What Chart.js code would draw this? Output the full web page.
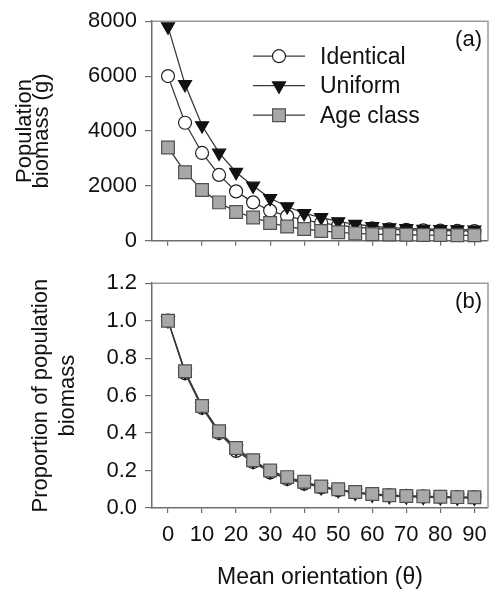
<!DOCTYPE html>
<html>
<head>
<meta charset="utf-8">
<script src="https://cdn.jsdelivr.net/npm/chart.js@4.4.1/dist/chart.umd.min.js"></script>
<style>
  html, body { margin: 0; padding: 0; background: #fff; overflow: hidden; }
  .panel { position: absolute; left: 0; width: 490px; }
  #boxA { top: 0; height: 262px; }
  #boxB { top: 262px; height: 334px; }
</style>
</head>
<body>
<div class="panel" id="boxA"><canvas id="biomassChart"></canvas></div>
<div class="panel" id="boxB"><canvas id="proportionChart"></canvas></div>
<script>
// mean orientation (theta), one point every 5 degrees
const orientation = [0, 5, 10, 15, 20, 25, 30, 35, 40, 45, 50, 55, 60, 65, 70, 75, 80, 85, 90];
const xTicks = [0, 10, 20, 30, 40, 50, 60, 70, 80, 90];
const biomassTicks = [0, 2000, 4000, 6000, 8000];
const proportionTicks = [0, 0.2, 0.4, 0.6, 0.8, 1.0, 1.2];

// (a) population biomass (g)
const identicalBiomass = [6000, 4300, 3200, 2400, 1800, 1400, 1100, 900, 750, 650, 560, 500, 450, 420, 400, 380, 370, 360, 350];
const uniformBiomass = [7800, 5700, 4200, 3200, 2500, 2000, 1550, 1250, 1000, 850, 700, 610, 530, 480, 450, 430, 420, 410, 400];
const ageClassBiomass = [3400, 2500, 1850, 1400, 1050, 850, 650, 520, 430, 360, 310, 270, 240, 230, 220, 210, 210, 200, 200];

// (b) proportion of population biomass
const identicalProportion = [1.0, 0.72, 0.535, 0.40, 0.305, 0.245, 0.19, 0.155, 0.13, 0.11, 0.095, 0.083, 0.074, 0.068, 0.065, 0.062, 0.06, 0.058, 0.057];
const uniformProportion = [1.0, 0.725, 0.54, 0.405, 0.315, 0.25, 0.195, 0.16, 0.135, 0.11, 0.095, 0.08, 0.07, 0.063, 0.06, 0.058, 0.056, 0.054, 0.053];
const ageClassProportion = [1.0, 0.73, 0.545, 0.41, 0.32, 0.255, 0.2, 0.165, 0.14, 0.115, 0.1, 0.085, 0.075, 0.068, 0.064, 0.062, 0.06, 0.058, 0.057];

const FONT = '"Liberation Sans", Arial, sans-serif';
const AXIS = '#6e6e6e';
const FRAME = '#9a9a9a';
const LINE = '#3a3a3a';

const markers = {
    identical: { pointStyle: 'circle', pointRadius: 6.5, pointBackgroundColor: '#fff', pointBorderColor: '#222', pointRotation: 0 },
    uniform: { pointStyle: 'triangle', pointRadius: 7.5, pointBackgroundColor: '#111', pointBorderColor: '#111', pointRotation: 180 },
    ageClass: { pointStyle: 'rect', pointRadius: 9, pointBackgroundColor: '#a8a8a8', pointBorderColor: '#505050', pointRotation: 0 }
};

const series = (label, values, marker, order) => ({
    label: label,
    data: values.map((v, i) => ({ x: orientation[i], y: v })),
    borderColor: LINE,
    borderWidth: 1.3,
    pointBorderWidth: 1.2,
    pointHoverRadius: marker.pointRadius,
    clip: 12,
    order: order,
    ...marker
});

// top and right sides of the plot box
const framePlugin = {
    id: 'frame',
    beforeDatasetsDraw(chart) {
        const { ctx, chartArea: a } = chart;
        ctx.save();
        ctx.strokeStyle = FRAME;
        ctx.lineWidth = 1.5;
        ctx.beginPath();
        ctx.moveTo(a.left, a.top);
        ctx.lineTo(a.right, a.top);
        ctx.lineTo(a.right, a.bottom);
        ctx.stroke();
        ctx.restore();
    }
};

// "(a)" / "(b)" in the top right corner
const panelTagPlugin = {
    id: 'panelTag',
    afterDraw(chart, args, opts) {
        const { ctx, chartArea: a } = chart;
        ctx.save();
        ctx.fillStyle = '#111';
        ctx.font = '22px ' + FONT;
        ctx.textAlign = 'right';
        ctx.textBaseline = 'middle';
        ctx.fillText(opts.text, a.right - 6, a.top + 19);
        ctx.restore();
    }
};

function drawMarker(ctx, kind, x, y) {
    const m = markers[kind];
    ctx.fillStyle = m.pointBackgroundColor;
    ctx.strokeStyle = m.pointBorderColor;
    ctx.lineWidth = 1.2;
    ctx.beginPath();
    if (kind === 'identical') {
        ctx.arc(x, y, m.pointRadius, 0, Math.PI * 2);
    } else if (kind === 'uniform') {
        const r = m.pointRadius;
        ctx.moveTo(x, y + r);
        ctx.lineTo(x - r * 0.866, y - r / 2);
        ctx.lineTo(x + r * 0.866, y - r / 2);
        ctx.closePath();
    } else {
        const h = m.pointRadius * Math.SQRT1_2;
        ctx.rect(x - h, y - h, 2 * h, 2 * h);
    }
    ctx.fill();
    ctx.stroke();
}

// legend sitting inside panel (a)
const legendPlugin = {
    id: 'insideLegend',
    afterDraw(chart) {
        const { ctx, chartArea: a } = chart;
        const rows = [['identical', 'Identical'], ['uniform', 'Uniform'], ['ageClass', 'Age class']];
        const x0 = a.left + 101;
        ctx.save();
        ctx.font = '23px ' + FONT;
        ctx.textBaseline = 'middle';
        rows.forEach((row, i) => {
            const y = a.top + 35 + i * 29.5;
            ctx.strokeStyle = LINE;
            ctx.lineWidth = 1.3;
            ctx.beginPath();
            ctx.moveTo(x0, y);
            ctx.lineTo(x0 + 52, y);
            ctx.stroke();
            drawMarker(ctx, row[0], x0 + 26, y);
            ctx.fillStyle = '#111';
            ctx.fillText(row[1], x0 + 67, y + 1);
        });
        ctx.restore();
    }
};

function xAxis(withLabels) {
    return {
        type: 'linear',
        min: -4.7,
        max: 94,
        afterBuildTicks: s => { s.ticks = xTicks.map(v => ({ value: v })); },
        afterFit: s => {
            s.height = withLabels ? 88 : 17;
            s.paddingLeft = 0;
            s.paddingRight = 0;
        },
        grid: { drawOnChartArea: false, tickLength: 5, color: AXIS, lineWidth: 1.2 },
        border: { color: AXIS, width: 1.5 },
        ticks: { display: withLabels, color: '#111', font: { family: FONT, size: 22 }, padding: 9, maxRotation: 0, autoSkip: false },
        title: {
            display: withLabels,
            text: 'Mean orientation (θ)',
            color: '#111',
            font: { family: FONT, size: 23 },
            padding: { top: 0, bottom: 5 }
        }
    };
}

function yAxis(min, max, tickValues, digits, titleLines, lineHeight, titlePad) {
    return {
        min: min,
        max: max,
        afterBuildTicks: s => { s.ticks = tickValues.map(v => ({ value: v })); },
        afterFit: s => { s.width = 152; },
        grid: { drawOnChartArea: false, tickLength: 7, color: AXIS, lineWidth: 1.2 },
        border: { color: AXIS, width: 1.5 },
        ticks: {
            color: '#111',
            font: { family: FONT, size: 22 },
            padding: 8,
            callback: v => Number(v).toFixed(digits)
        },
        title: {
            display: true,
            text: titleLines,
            color: '#111',
            font: { family: FONT, size: 22, lineHeight: lineHeight },
            padding: { top: titlePad, bottom: 0 }
        }
    };
}

const baseOptions = {
    responsive: true,
    maintainAspectRatio: false,
    animation: false,
    layout: { autoPadding: false, padding: { top: 18, right: 2, left: 0, bottom: 0 } },
    plugins: { legend: { display: false }, tooltip: { enabled: false } }
};

new Chart(document.getElementById('biomassChart').getContext('2d'), {
    type: 'line',
    data: {
        datasets: [
            series('Identical', identicalBiomass, markers.identical, 2),
            series('Uniform', uniformBiomass, markers.uniform, 1),
            series('Age class', ageClassBiomass, markers.ageClass, 0)
        ]
    },
    options: {
        ...baseOptions,
        scales: {
            x: xAxis(false),
            y: yAxis(0, 8000, biomassTicks, 0, ['Population', 'biomass (g)'], 0.78, 16)
        },
        plugins: { ...baseOptions.plugins, panelTag: { text: '(a)' } }
    },
    plugins: [framePlugin, panelTagPlugin, legendPlugin]
});

new Chart(document.getElementById('proportionChart').getContext('2d'), {
    type: 'line',
    data: {
        datasets: [
            series('Identical', identicalProportion, markers.identical, 2),
            series('Uniform', uniformProportion, markers.uniform, 1),
            series('Age class', ageClassProportion, markers.ageClass, 0)
        ]
    },
    options: {
        ...baseOptions,
        scales: {
            x: xAxis(true),
            y: yAxis(0, 1.2, proportionTicks, 1, ['Proportion of population', 'biomass'], 1.23, 27)
        },
        plugins: { ...baseOptions.plugins, panelTag: { text: '(b)' } }
    },
    plugins: [framePlugin, panelTagPlugin]
});
</script>
</body>
</html>
